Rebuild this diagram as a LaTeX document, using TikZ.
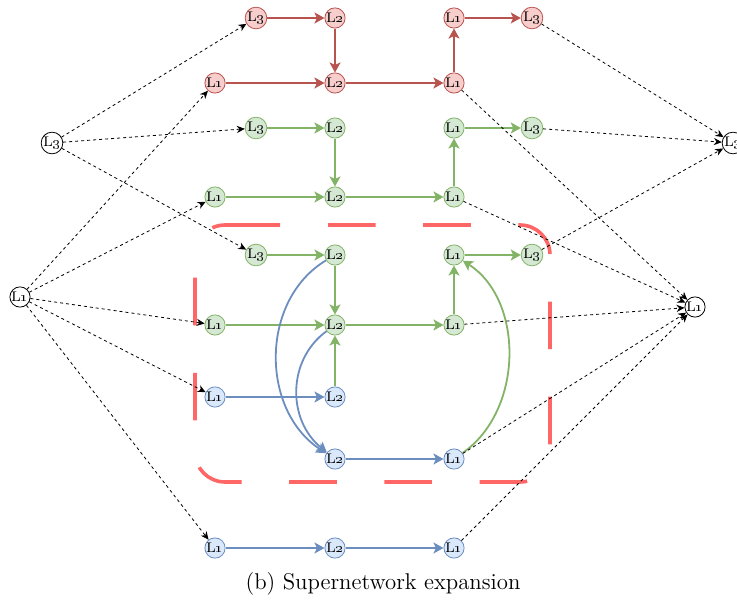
\documentclass[tikz,border=0pt]{standalone}
\usetikzlibrary{arrows.meta}
\definecolor{rdraw}{HTML}{B85450}
\definecolor{rfill}{HTML}{F8CECC}
\definecolor{gdraw}{HTML}{82B366}
\definecolor{gfill}{HTML}{D5E8D4}
\definecolor{bdraw}{HTML}{6C8EBF}
\definecolor{bfill}{HTML}{DAE8FC}
\definecolor{boxred}{HTML}{FF6666}
\newcommand\lab[1]{L\oldstylenums{#1}}
\begin{document}
\begin{tikzpicture}[x=0.5pt,y=-0.5pt,
  nd/.style={circle,draw,line width=0.4pt,inner sep=0pt,minimum size=10pt,font=\scriptsize},
  rn/.style={nd,draw=rdraw,fill=rfill},
  gn/.style={nd,draw=gdraw,fill=gfill},
  bn/.style={nd,draw=bdraw,fill=bfill},
  kn/.style={nd,draw=black,fill=white},
  ce/.style={line width=0.9pt,-{Stealth[length=5pt,width=5.5pt,inset=1.2pt]}},
  re/.style={ce,draw=rdraw},
  ge/.style={ce,draw=gdraw},
  be/.style={ce,draw=bdraw},
  de/.style={line width=0.4pt,dash pattern=on 1.5pt off 1.5pt,-{Stealth[length=4pt,width=3.6pt]}},
  bx/.style={boxred,line width=1.8pt,rounded corners=15pt}]
\useasboundingbox (0,0) rectangle (737,603);
% dashed box
\draw[bx,dash pattern=on 23.8pt off 23.8pt]
  (328,225) -- (550,225) -- (550,482) -- (195,482) -- (195,262);
\draw[bx,dash pattern=on 0pt off 20.5pt on 45pt off 100pt]
  (195,262) -- (195,225) -- (280,225);
% red
\node[rn] (r3a) at (256,18) {\lab3};
\node[rn] (r2a) at (335,18) {\lab2};
\node[rn] (r1c) at (454,18) {\lab1};
\node[rn] (r3b) at (532,18) {\lab3};
\node[rn] (r1a) at (215,83) {\lab1};
\node[rn] (r2b) at (335,83) {\lab2};
\node[rn] (r1b) at (454,83) {\lab1};
% green top
\node[gn] (ga3) at (256,128) {\lab3};
\node[gn] (ga2) at (335,128) {\lab2};
\node[gn] (ga1t) at (454,128) {\lab1};
\node[gn] (ga3r) at (532,128) {\lab3};
\node[gn] (ga1) at (215,197) {\lab1};
\node[gn] (ga2b) at (335,197) {\lab2};
\node[gn] (ga1b) at (454,197) {\lab1};
% green box
\node[gn] (gb3) at (256,255) {\lab3};
\node[gn] (gb2) at (335,255) {\lab2};
\node[gn] (gb1t) at (454,255) {\lab1};
\node[gn] (gb3r) at (532,255) {\lab3};
\node[gn] (gb1) at (215,325) {\lab1};
\node[gn] (gb2b) at (335,325) {\lab2};
\node[gn] (gb1b) at (454,325) {\lab1};
% blue box
\node[bn] (b1) at (215,397) {\lab1};
\node[bn] (b2) at (335,397) {\lab2};
\node[bn] (b2b) at (335,459) {\lab2};
\node[bn] (b1b) at (454,459) {\lab1};
% blue bottom
\node[bn] (c1) at (215,548) {\lab1};
\node[bn] (c2) at (335,548) {\lab2};
\node[bn] (c1b) at (454,548) {\lab1};
% black
\node[kn] (LL3) at (52,143) {\lab3};
\node[kn] (LL1) at (20,297) {\lab1};
\node[kn] (RL3) at (733,143) {\lab3};
\node[kn] (RL1) at (695,307) {\lab1};
% red edges
\draw[re] (r3a) -- (r2a);
\draw[re] (r2a) -- (r2b);
\draw[re] (r1a) -- (r2b);
\draw[re] (r2b) -- (r1b);
\draw[re] (r1b) -- (r1c);
\draw[re] (r1c) -- (r3b);
% green edges
\draw[ge] (ga3) -- (ga2);
\draw[ge] (ga2) -- (ga2b);
\draw[ge] (ga1) -- (ga2b);
\draw[ge] (ga2b) -- (ga1b);
\draw[ge] (ga1b) -- (ga1t);
\draw[ge] (ga1t) -- (ga3r);
\draw[ge] (gb3) -- (gb2);
\draw[ge] (gb2) -- (gb2b);
\draw[ge] (gb1) -- (gb2b);
\draw[ge] (gb2b) -- (gb1b);
\draw[ge] (gb1b) -- (gb1t);
\draw[ge] (gb1t) -- (gb3r);
\draw[ge] (b2) -- (gb2b);
\draw[ge] (b1b) .. controls (524,410) and (524,300) .. (gb1t);
% blue edges
\draw[be] (b1) -- (b2);
\draw[be] (gb2) .. controls (260,300) and (260,410) .. (b2b);
\draw[be] (gb2b) .. controls (287,360) and (287,420) .. (b2b);
\draw[be] (b2b) -- (b1b);
\draw[be] (c1) -- (c2);
\draw[be] (c2) -- (c1b);
% dotted
\draw[de] (LL3) -- (r3a);
\draw[de] (LL3) -- (ga3);
\draw[de] (LL3) -- (gb3);
\draw[de] (LL1) -- (r1a);
\draw[de] (LL1) -- (ga1);
\draw[de] (LL1) -- (gb1);
\draw[de] (LL1) -- (b1);
\draw[de] (LL1) -- (c1);
\draw[de] (r3b) -- (RL3);
\draw[de] (ga3r) -- (RL3);
\draw[de] (gb3r) -- (RL3);
\draw[de] (r1b) -- (RL1);
\draw[de] (ga1b) -- (RL1);
\draw[de] (gb1b) -- (RL1);
\draw[de] (b1b) -- (RL1);
\draw[de] (c1b) -- (RL1);
% caption
\node[font=\fontsize{11.4}{13}\selectfont] (cap) at (383,584) {(b) Supernetwork expansion};
\end{tikzpicture}
\end{document}
